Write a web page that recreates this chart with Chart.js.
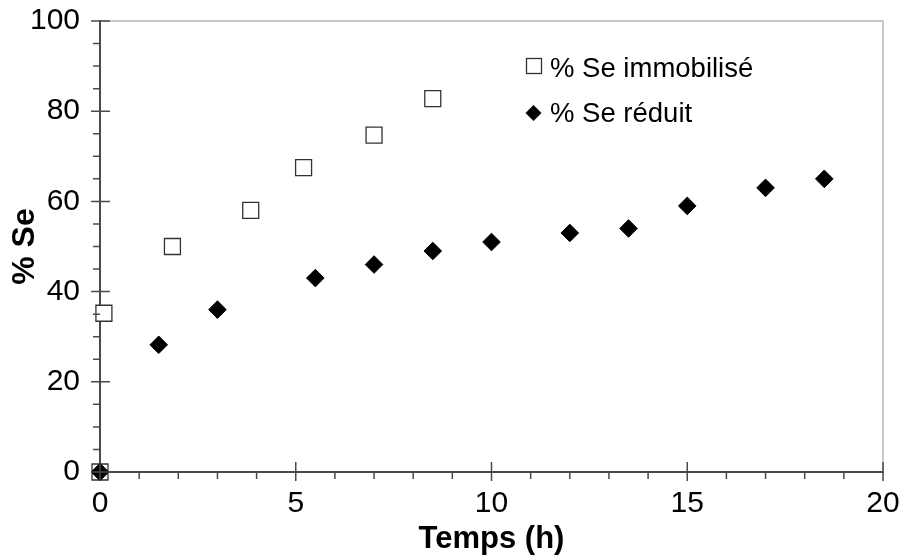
<!DOCTYPE html>
<html>
<head>
<meta charset="utf-8">
<script src="https://cdn.jsdelivr.net/npm/chart.js@4/dist/chart.umd.min.js"></script>
<style>
  html, body { margin: 0; padding: 0; background: #fff; }
  #wrap { width: 906px; height: 558px; }
</style>
</head>
<body>
<div id="wrap"><canvas id="seChart"></canvas></div>
<script>
// data
const immobTime  = [0, 0.1, 1.85, 3.85, 5.2, 7.0, 8.5];
const immobPct   = [0, 35.2, 50, 58, 67.5, 74.7, 82.8];
const reducTime  = [0, 1.5, 3.0, 5.5, 7.0, 8.5, 10, 12, 13.5, 15, 17, 18.5];
const reducPct   = [0, 28.2, 36, 43, 46, 49, 51, 53, 54, 59, 63, 65];
const xTicks     = [0, 5, 10, 15, 20];
const yTicks     = [0, 20, 40, 60, 80, 100];
const seriesNames = ['% Se immobilisé', '% Se réduit'];

const toXY = (xs, ys) => xs.map((x, i) => ({ x: x, y: ys[i] }));
const FONT = 'Liberation Sans, Arial, Helvetica, sans-serif';

// draws crossing major ticks, minor ticks, top/right frame and the legend
const axesDeco = {
    id: 'axesDeco',
    afterDraw(chart) {
        const ctx = chart.ctx;
        const xs = chart.scales.x, ys = chart.scales.y;
        const area = chart.chartArea;
        const x0 = xs.getPixelForValue(0);
        const y0 = ys.getPixelForValue(0);
        ctx.save();

        // light frame on top and right
        ctx.strokeStyle = '#b8b8b8';
        ctx.lineWidth = 1.5;
        ctx.beginPath();
        ctx.moveTo(x0, area.top);
        ctx.lineTo(area.right, area.top);
        ctx.lineTo(area.right, y0);
        ctx.stroke();

        ctx.strokeStyle = '#4a4a4a';
        ctx.lineWidth = 1.5;
        ctx.beginPath();
        // y ticks (minor every 5)
        for (let v = 0; v <= 100; v += 5) {
            const py = ys.getPixelForValue(v);
            if (v % 20 === 0) {
                ctx.moveTo(x0 - 9, py); ctx.lineTo(x0 + 10, py);
            } else {
                ctx.moveTo(x0 - 7, py); ctx.lineTo(x0, py);
            }
        }
        // x ticks (minor every 1)
        for (let v = 0; v <= 20; v += 1) {
            const px = xs.getPixelForValue(v);
            if (v % 5 === 0) {
                ctx.moveTo(px, y0 - 10); ctx.lineTo(px, y0 + 9);
            } else {
                ctx.moveTo(px, y0); ctx.lineTo(px, y0 + 7);
            }
        }
        ctx.stroke();

        // legend
        ctx.font = '27.5px ' + FONT;
        ctx.textBaseline = 'middle';
        ctx.textAlign = 'left';
        ctx.fillStyle = '#fff';
        ctx.strokeStyle = '#333';
        ctx.lineWidth = 1.3;
        ctx.fillRect(526.5, 58.5, 15, 15);
        ctx.strokeRect(526.5, 58.5, 15, 15);
        ctx.fillStyle = '#000';
        ctx.fillText(seriesNames[0], 550, 69);
        ctx.beginPath();
        ctx.moveTo(533.5, 105); ctx.lineTo(541.5, 113);
        ctx.lineTo(533.5, 121); ctx.lineTo(525.5, 113);
        ctx.closePath();
        ctx.fill();
        ctx.fillText(seriesNames[1], 550, 114);
        ctx.restore();
    }
};

new Chart(document.getElementById('seChart'), {
    type: 'scatter',
    data: {
        datasets: [{
            label: seriesNames[0],
            data: toXY(immobTime, immobPct),
            pointStyle: 'rect',
            pointRadius: 11.3,
            pointHoverRadius: 11.3,
            backgroundColor: '#fff',
            borderColor: '#333',
            borderWidth: 1.3,
            clip: false,
            order: 2
        }, {
            label: seriesNames[1],
            data: toXY(reducTime, reducPct),
            pointStyle: 'rectRot',
            pointRadius: 8.8,
            pointHoverRadius: 8.8,
            backgroundColor: '#000',
            borderColor: '#000',
            borderWidth: 1,
            clip: false,
            order: 1
        }]
    },
    options: {
        responsive: true,
        maintainAspectRatio: false,
        animation: false,
        layout: { padding: { top: 21, right: 23, left: 0, bottom: 0 } },
        plugins: {
            legend: { display: false },
            tooltip: { enabled: false }
        },
        scales: {
            x: {
                type: 'linear',
                min: 0, max: 20,
                afterFit: (s) => { s.height = 86; s.paddingLeft = 0; s.paddingRight = 0; },
                afterBuildTicks: (s) => { s.ticks = xTicks.map(v => ({ value: v })); },
                grid: { display: false },
                border: { display: true, color: '#4a4a4a', width: 2 },
                ticks: { color: '#000', font: { family: FONT, size: 30 }, padding: 6 },
                title: {
                    display: true, text: 'Temps (h)', color: '#000',
                    font: { family: FONT, size: 31, weight: 'bold' },
                    padding: { top: 0, bottom: 0 }
                }
            },
            y: {
                type: 'linear',
                min: 0, max: 100,
                afterFit: (s) => { s.width = 100; s.paddingTop = 0; s.paddingBottom = 0; },
                afterBuildTicks: (s) => { s.ticks = yTicks.map(v => ({ value: v })); },
                grid: { display: false },
                border: { display: true, color: '#4a4a4a', width: 2 },
                ticks: { color: '#000', font: { family: FONT, size: 30 }, padding: 12 },
                title: {
                    display: true, text: '% Se', color: '#000',
                    font: { family: FONT, size: 32, weight: 'bold' },
                    padding: { top: 6, bottom: 0 }
                }
            }
        }
    },
    plugins: [axesDeco]
});
</script>
</body>
</html>
